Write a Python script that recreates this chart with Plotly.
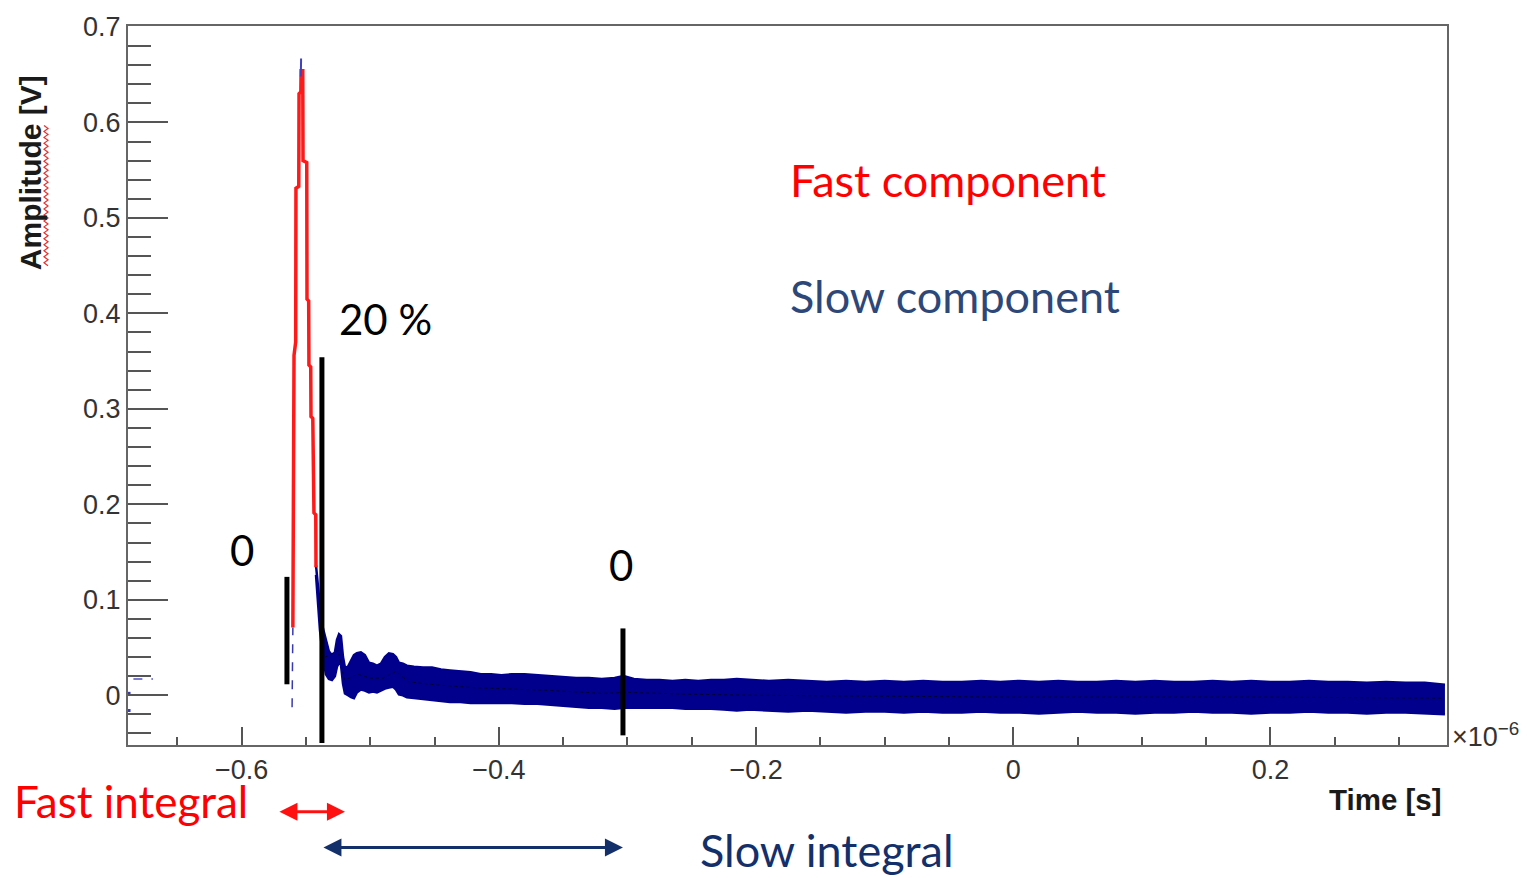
import plotly.graph_objects as go

# ---------------- waveform data (time in units of 1e-6 s, amplitude in V) ----------------
# isolated samples at the very start of the window
start_dot_t = [-0.6876, -0.6876]
start_dot_v = [0.002, -0.016]
start_t = [-0.6842, -0.6690]
start_v = [0.017, 0.017]

# raw samples on the leading edge (below the fast-component trace)
rise_t = [-0.5608, -0.5606, -0.5604, -0.5602]
rise_v = [-0.0125, 0.010, 0.030, 0.071]

# fast component: the prompt peak
fast_t = [-0.5602, -0.5600, -0.5594, -0.5593, -0.5580, -0.5578, -0.5556, -0.5554,
          -0.5540, -0.5538, -0.5525, -0.5523, -0.5494, -0.5492, -0.5479, -0.5477,
          -0.5463, -0.5461, -0.5447, -0.5445, -0.5440, -0.5438, -0.5424, -0.5422]
fast_v = [0.071, 0.174, 0.176, 0.356, 0.370, 0.531, 0.533, 0.630,
          0.632, 0.654, 0.654, 0.560, 0.558, 0.415, 0.413, 0.346,
          0.344, 0.292, 0.290, 0.236, 0.234, 0.191, 0.189, 0.134]

# raw sample at the top of the peak
tip_t = [-0.5540, -0.5538]
tip_v = [0.648, 0.667]

# slow component: noise band (upper / lower envelope) after the peak
slow_t = [-0.5422, -0.5407, -0.5391, -0.5368, -0.5345, -0.5322, -0.5298, -0.5275,
          -0.5259, -0.5243, -0.5228, -0.5212, -0.5197, -0.5173, -0.5150, -0.5127,
          -0.5104, -0.5073, -0.5042, -0.5010, -0.4979, -0.4948, -0.4917, -0.4886,
          -0.4855, -0.4824, -0.4800, -0.4777, -0.4746, -0.4715, -0.4660, -0.4590,
          -0.4520, -0.4450, -0.4380, -0.4300, -0.4220, -0.4140, -0.4060, -0.3980,
          -0.3900, -0.3800, -0.3700, -0.3600, -0.3500, -0.3400, -0.3300, -0.3200,
          -0.3100, -0.3030, -0.2950, -0.2850, -0.2750, -0.2650, -0.2550, -0.2450,
          -0.2350, -0.2250, -0.2150, -0.2050, -0.1900, -0.1750, -0.1600, -0.1450,
          -0.1300, -0.1150, -0.1000, -0.0850, -0.0700, -0.0550, -0.0400, -0.0250,
          -0.0100, 0.0050, 0.0200, 0.0350, 0.0500, 0.0650, 0.0800, 0.0950,
          0.1100, 0.1250, 0.1400, 0.1550, 0.1700, 0.1850, 0.2000, 0.2150,
          0.2300, 0.2450, 0.2600, 0.2750, 0.2900, 0.3050, 0.3200, 0.3300, 0.3357]
slow_hi = [0.136, 0.115, 0.092, 0.070, 0.058, 0.046, 0.042, 0.045,
           0.058, 0.064, 0.062, 0.040, 0.029, 0.030, 0.036, 0.042,
           0.044, 0.045, 0.042, 0.034, 0.033, 0.031, 0.033, 0.040,
           0.044, 0.043, 0.040, 0.034, 0.033, 0.031, 0.030, 0.029,
           0.029, 0.027, 0.026, 0.025, 0.024, 0.022, 0.022, 0.021,
           0.022, 0.022, 0.021, 0.020, 0.019, 0.018, 0.018, 0.017,
           0.018, 0.020, 0.017, 0.016, 0.016, 0.015, 0.016, 0.015,
           0.016, 0.016, 0.017, 0.016, 0.015, 0.016, 0.015, 0.014,
           0.015, 0.014, 0.015, 0.014, 0.015, 0.014, 0.014, 0.015,
           0.014, 0.015, 0.014, 0.015, 0.014, 0.014, 0.015, 0.014,
           0.015, 0.014, 0.014, 0.015, 0.014, 0.015, 0.014, 0.014,
           0.015, 0.014, 0.014, 0.013, 0.014, 0.013, 0.013, 0.012, 0.011]
slow_lo = [0.126, 0.095, 0.068, 0.040, 0.022, 0.017, 0.016, 0.020,
           0.030, 0.034, 0.032, 0.012, 0.002, 0.000, -0.002, -0.003,
           0.003, 0.006, 0.005, 0.003, 0.004, 0.003, 0.005, 0.007,
           0.008, 0.009, 0.006, 0.001, 0.000, -0.002, -0.003, -0.004,
           -0.005, -0.006, -0.007, -0.007, -0.008, -0.008, -0.008, -0.008,
           -0.008, -0.009, -0.009, -0.010, -0.011, -0.012, -0.013, -0.013,
           -0.014, -0.013, -0.013, -0.013, -0.013, -0.013, -0.014, -0.014,
           -0.014, -0.015, -0.016, -0.015, -0.016, -0.017, -0.016, -0.017,
           -0.018, -0.017, -0.017, -0.018, -0.017, -0.018, -0.018, -0.017,
           -0.018, -0.018, -0.019, -0.018, -0.017, -0.018, -0.018, -0.019,
           -0.018, -0.018, -0.017, -0.018, -0.018, -0.019, -0.018, -0.018,
           -0.017, -0.018, -0.018, -0.019, -0.018, -0.018, -0.019, -0.019, -0.020]

# running mean of the slow component
mid_t = [-0.5350, -0.5250, -0.5200, -0.5100, -0.5000, -0.4900, -0.4800, -0.4700,
         -0.4500, -0.4200, -0.4000, -0.3600, -0.3200, -0.3000, -0.2500, -0.2000,
         -0.1000, 0.0000, 0.1000, 0.2000, 0.3350]
mid_v = [0.040, 0.047, 0.016, 0.022, 0.018, 0.018, 0.025, 0.014,
         0.011, 0.008, 0.007, 0.005, 0.002, 0.003, 0.001, 0.000,
         -0.001, -0.002, -0.002, -0.002, -0.003]

# integration window markers: (time, lower amplitude, upper amplitude)
gate_fast_start = (-0.5648, 0.0115, 0.124)
gate_split = (-0.5376, -0.050, 0.354)
gate_slow_end = (-0.3035, -0.042, 0.070)

X_RANGE = [-0.6884, 0.3373]
Y_RANGE = [-0.0521, 0.701]

WAVE_BLUE = "#00008c"
FAST_RED = "#ff1a1a"
SLOW_NAVY = "#14306a"
SLIDE_FONT = "Lato"
ROOT_FONT = "Liberation Sans"

# figure geometry (pixels)
W, H = 1527, 878
ML, MR, MT, MB = 128, 80, 22, 133
PW, PH = W - ML - MR, H - MT - MB


def px(xp):
    return (xp - ML) / PW


def py(yp):
    return (H - MB - yp) / PH


fig = go.Figure()

# slow-component noise band
fig.add_trace(go.Scatter(x=slow_t, y=slow_lo, mode="lines",
                         line=dict(color=WAVE_BLUE, width=2.5), hoverinfo="skip",
                         showlegend=False))
fig.add_trace(go.Scatter(x=slow_t, y=slow_hi, mode="lines", fill="tonexty",
                         fillcolor=WAVE_BLUE, line=dict(color=WAVE_BLUE, width=2.5),
                         hoverinfo="skip", showlegend=False))
fig.add_trace(go.Scatter(x=mid_t, y=mid_v, mode="lines",
                         line=dict(color="#000030", width=1, dash="dot"),
                         hoverinfo="skip", showlegend=False))

# early samples and leading edge
fig.add_trace(go.Scatter(x=start_dot_t, y=start_dot_v, mode="markers",
                         marker=dict(color="#3a3ab0", size=3, symbol="square"),
                         showlegend=False))
fig.add_trace(go.Scatter(x=start_t, y=start_v, mode="lines",
                         line=dict(color="#5050c0", width=1.5, dash="dash"),
                         showlegend=False))
fig.add_trace(go.Scatter(x=rise_t, y=rise_v, mode="lines",
                         line=dict(color="#3a3ab0", width=1.5, dash="dash"),
                         showlegend=False))

# fast component
fig.add_trace(go.Scatter(x=fast_t, y=fast_v, mode="lines",
                         line=dict(color=FAST_RED, width=3.5), showlegend=False))
fig.add_trace(go.Scatter(x=tip_t, y=tip_v, mode="lines",
                         line=dict(color="#4040c0", width=2), showlegend=False))

# integration gate markers
for gx, glo, ghi in (gate_fast_start, gate_split, gate_slow_end):
    fig.add_shape(type="line", xref="x", yref="y", x0=gx, x1=gx, y0=glo, y1=ghi,
                  line=dict(color="black", width=5), layer="above")

# spelling squiggle under the y-axis title
sq_pts = []
yy = 122.0
k = 0
while yy <= 265:
    sq_pts.append((px(44 if k % 2 == 0 else 48), py(yy)))
    yy += 3.0
    k += 1
sq_path = "M " + " L ".join(f"{a:.5f},{b:.5f}" for a, b in sq_pts)
fig.add_shape(type="path", xref="paper", yref="paper", path=sq_path,
              line=dict(color="#e83030", width=1.2))

ann = []
# axis titles and exponent
ann.append(dict(text="<b>Amplitude [V]</b>", x=px(30), y=py(170), xref="paper", yref="paper",
                textangle=-90, showarrow=False, xanchor="center", yanchor="middle",
                font=dict(family=ROOT_FONT, size=30, color="#1a1a1a")))
ann.append(dict(text="<b>Time [s]</b>", x=px(1444), y=py(800), xref="paper", yref="paper",
                showarrow=False, xanchor="right", yanchor="middle",
                font=dict(family=ROOT_FONT, size=29.5, color="#1a1a1a")))
ann.append(dict(text="×10<sup>−6</sup>", x=px(1450), y=py(735), xref="paper", yref="paper",
                showarrow=False, xanchor="left", yanchor="middle",
                font=dict(family=ROOT_FONT, size=27, color="#333333")))

# slide labels
ann.append(dict(text="Fast component", x=px(788), y=py(177), xref="paper", yref="paper",
                showarrow=False, xanchor="left", yanchor="middle",
                font=dict(family=SLIDE_FONT, size=45, color="#ff0000")))
ann.append(dict(text="Slow component", x=px(788), y=py(293), xref="paper", yref="paper",
                showarrow=False, xanchor="left", yanchor="middle",
                font=dict(family=SLIDE_FONT, size=45, color="#2d4878")))
ann.append(dict(text="20 %", x=px(337), y=py(317), xref="paper", yref="paper",
                showarrow=False, xanchor="left", yanchor="middle",
                font=dict(family=SLIDE_FONT, size=42, color="black")))
ann.append(dict(text="0", x=px(242), y=py(549), xref="paper", yref="paper",
                showarrow=False, xanchor="center", yanchor="middle",
                font=dict(family=SLIDE_FONT, size=42, color="black")))
ann.append(dict(text="0", x=px(621), y=py(564), xref="paper", yref="paper",
                showarrow=False, xanchor="center", yanchor="middle",
                font=dict(family=SLIDE_FONT, size=42, color="black")))
ann.append(dict(text="Fast integral", x=px(12), y=py(801), xref="paper", yref="paper",
                showarrow=False, xanchor="left", yanchor="middle",
                font=dict(family=SLIDE_FONT, size=44, color="#ff0000")))
ann.append(dict(text="Slow integral", x=px(698), y=py(851), xref="paper", yref="paper",
                showarrow=False, xanchor="left", yanchor="middle",
                font=dict(family=SLIDE_FONT, size=45, color=SLOW_NAVY)))

# integral range arrows (double headed)
ann.append(dict(text="", x=-0.5197, y=py(812), xref="x", yref="paper",
                ax=-0.5718, ay=0, axref="x", ayref="pixel",
                showarrow=True, arrowhead=2, startarrowhead=2, arrowside="end+start",
                arrowsize=1.2, startarrowsize=1.2, arrowwidth=3, arrowcolor="#ff1010",
                standoff=0, startstandoff=0))
ann.append(dict(text="", x=-0.3035, y=py(848), xref="x", yref="paper",
                ax=-0.5376, ay=0, axref="x", ayref="pixel",
                showarrow=True, arrowhead=2, startarrowhead=2, arrowside="end+start",
                arrowsize=1.2, startarrowsize=1.2, arrowwidth=3, arrowcolor=SLOW_NAVY,
                standoff=0, startstandoff=0))

fig.update_layout(
    width=W, height=H,
    margin=dict(l=ML, r=MR, t=MT, b=MB),
    paper_bgcolor="white", plot_bgcolor="white",
    showlegend=False,
    annotations=ann,
    xaxis=dict(range=X_RANGE, dtick=0.2, tick0=0, ticks="inside", ticklen=18, tickwidth=2,
               tickcolor="#555555", showgrid=False, zeroline=False,
               showline=True, linecolor="#666666", linewidth=2, mirror=True,
               minor=dict(dtick=0.05, ticks="inside", ticklen=8, tickwidth=2,
                          tickcolor="#555555", showgrid=False),
               tickfont=dict(family=ROOT_FONT, size=27, color="#333333")),
    yaxis=dict(range=Y_RANGE, dtick=0.1, tick0=0, ticks="inside", ticklen=40, tickwidth=2,
               tickcolor="#555555", showgrid=False, zeroline=False,
               showline=True, linecolor="#666666", linewidth=2, mirror=True,
               minor=dict(dtick=0.02, ticks="inside", ticklen=23, tickwidth=2,
                          tickcolor="#555555", showgrid=False),
               tickfont=dict(family=ROOT_FONT, size=27, color="#333333")),
)

fig.write_html("out.html")
